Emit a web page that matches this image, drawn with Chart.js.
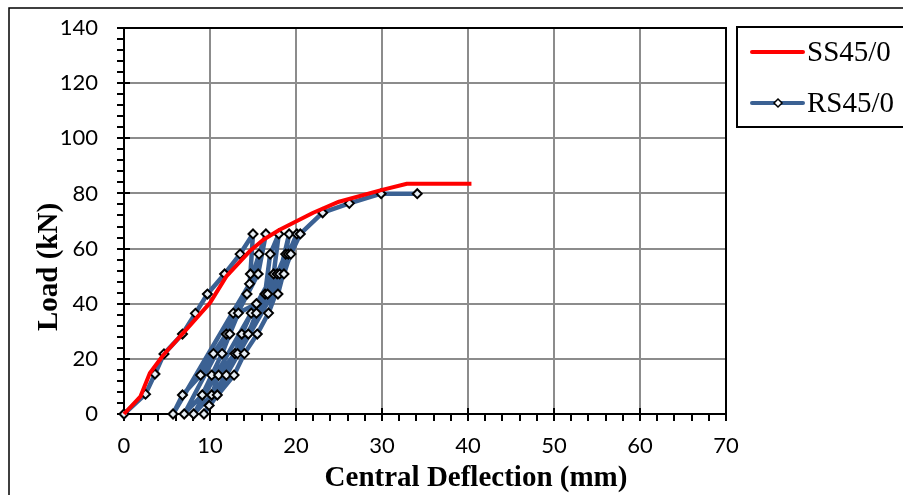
<!DOCTYPE html>
<html>
<head>
<meta charset="utf-8">
<title>Load - central deflection</title>
<script src="https://cdn.jsdelivr.net/npm/chart.js@4.4.1/dist/chart.umd.min.js"></script>
<style>
  html, body { margin: 0; padding: 0; background: #fff; }
</style>
</head>
<body>
<canvas id="loadChart" width="903" height="495"></canvas>
<script>
// SS45/0 : monotonic
const ssDeflection = [0, 1.9, 3.0, 4.6, 6.9, 10.0, 11.9, 14.6, 16.2, 18.1, 22.0, 25.0, 29.8, 32.9, 40.4];
const ssLoad       = [0, 6.3, 14.8, 21.5, 29.4, 40.3, 49.9, 59.0, 63.2, 66.8, 73.0, 77.0, 81.1, 83.5, 83.5];

// RS45/0 : repeated loading (points in test order)
const rsDeflection = [
  0, 2.5, 3.6, 4.65, 6.8, 8.3, 9.7, 11.7, 13.5, 15.0,
  14.7, 14.6, 5.7,
  6.8, 8.9, 10.4, 11.9, 12.7, 14.3, 15.7, 16.5,
  15.6, 7.0,
  9.1, 10.2, 11.4, 12.3, 13.3, 15.4, 16.4, 17.0, 18.0,
  17.4, 8.1,
  10.2, 11.0, 12.9, 13.7, 14.8, 16.7, 17.8, 18.8, 19.2,
  18.1, 9.3,
  10.85, 11.9, 13.2, 14.45, 15.4, 17.9, 19.1, 20.1,
  18.6, 9.9,
  12.8, 14.0, 15.5, 16.8, 19.4, 20.5,
  23.1, 26.2, 29.9, 34.1
];
const rsLoad = [
  0, 7.2, 14.5, 21.8, 29, 36.5, 43.5, 50.8, 58, 65.3,
  50.8, 47.2, 0,
  6.9, 14.1, 21.9, 29, 36.6, 43.5, 58, 65.3,
  50.8, 0,
  6.9, 14.1, 21.9, 29, 36.6, 40, 43.5, 58, 65.3,
  50.8, 0,
  6.9, 14.1, 21.9, 29, 36.6, 43.5, 50.8, 58, 65.3,
  50.8, 0,
  6.9, 14.1, 21.9, 29, 36.6, 43.5, 58, 65.3,
  50.8, 3.1,
  14.1, 21.9, 29, 36.6, 58, 65.3,
  73, 76.4, 79.9, 79.9
];

const seriesNames = ['SS45/0', 'RS45/0'];
const xMax = 70, xStep = 10, xMinor = 2;
const yMax = 140, yStep = 20, yMinor = 4;

const RED = '#ff0000';
const BLUE = '#3b6193';

function pts(xs, ys) {
  return xs.map((x, i) => ({ x: x, y: ys[i] }));
}

// frame, tick marks, titles, legend
const decor = {
  id: 'decor',
  beforeDatasetsDraw(chart) {
    const ctx = chart.ctx;
    const a = chart.chartArea;
    const xs = chart.scales.x, ys = chart.scales.y;
    ctx.save();
    ctx.strokeStyle = '#000';
    ctx.lineWidth = 2;
    ctx.strokeRect(a.left, a.top, a.right - a.left, a.bottom - a.top);
    ctx.beginPath();
    for (let v = 0; v <= xMax; v += xMinor) {
      const px = Math.round(xs.getPixelForValue(v));
      const major = v % xStep === 0;
      ctx.moveTo(px, a.bottom + 7);
      ctx.lineTo(px, major ? a.bottom - 6 : a.bottom);
    }
    for (let v = 0; v <= yMax; v += yMinor) {
      const py = Math.round(ys.getPixelForValue(v));
      const major = v % yStep === 0;
      ctx.moveTo(a.left - 7, py);
      ctx.lineTo(major ? a.left + 6 : a.left, py);
    }
    ctx.stroke();
    ctx.restore();
  },
  afterDraw(chart) {
    const ctx = chart.ctx;
    ctx.save();
    // outer border
    ctx.strokeStyle = '#000';
    ctx.lineWidth = 1.5;
    ctx.strokeRect(9, 8, 1000, 1000);

    // axis titles
    ctx.fillStyle = '#000';
    ctx.font = 'bold 29px "Liberation Serif"';
    ctx.textAlign = 'center';
    ctx.textBaseline = 'middle';
    ctx.fillText('Central Deflection (mm)', 476, 479);
    ctx.save();
    ctx.translate(50, 267);
    ctx.rotate(-Math.PI / 2);
    ctx.fillText('Load (kN)', 0, 0);
    ctx.restore();

    // legend
    ctx.lineWidth = 2;
    ctx.strokeRect(737, 27, 300, 100);
    ctx.lineCap = 'round';
    ctx.lineWidth = 4;
    ctx.strokeStyle = RED;
    ctx.beginPath(); ctx.moveTo(752, 52); ctx.lineTo(803, 52); ctx.stroke();
    ctx.strokeStyle = BLUE;
    ctx.beginPath(); ctx.moveTo(752, 103); ctx.lineTo(803, 103); ctx.stroke();
    ctx.lineWidth = 1.5;
    ctx.strokeStyle = '#000';
    ctx.fillStyle = '#fff';
    ctx.beginPath();
    ctx.moveTo(778, 99); ctx.lineTo(782, 103); ctx.lineTo(778, 107); ctx.lineTo(774, 103); ctx.closePath();
    ctx.fill(); ctx.stroke();
    ctx.fillStyle = '#000';
    ctx.font = '29px "Liberation Serif"';
    ctx.textAlign = 'left';
    ctx.fillText(seriesNames[0], 807, 53);
    ctx.fillText(seriesNames[1], 807, 104);
    ctx.restore();
  }
};

new Chart(document.getElementById('loadChart'), {
  type: 'scatter',
  data: {
    datasets: [{
      label: seriesNames[0],
      data: pts(ssDeflection, ssLoad),
      showLine: true,
      borderColor: RED,
      backgroundColor: RED,
      borderWidth: 4,
      borderJoinStyle: 'round',
      pointRadius: 0,
      tension: 0
    }, {
      label: seriesNames[1],
      data: pts(rsDeflection, rsLoad),
      showLine: true,
      borderColor: BLUE,
      backgroundColor: BLUE,
      borderWidth: 4.5,
      borderJoinStyle: 'round',
      pointStyle: 'rectRot',
      pointRadius: 4.5,
      pointBackgroundColor: '#e6edf5',
      pointBorderColor: '#000',
      pointBorderWidth: 2,
      tension: 0
    }]
  },
  options: {
    responsive: false,
    animation: false,
    clip: false,
    layout: { padding: { left: 0, top: 28, right: 177, bottom: 0 } },
    plugins: {
      legend: { display: false },
      tooltip: { enabled: false }
    },
    scales: {
      x: {
        type: 'linear',
        min: 0, max: xMax,
        afterFit: s => { s.height = 81; s.paddingLeft = 0; s.paddingRight = 0; },
        ticks: {
          stepSize: xStep,
          padding: 19,
          color: '#000',
          font: { family: 'Lato', size: 22 }
        },
        grid: {
          drawTicks: false,
          color: c => (c.tick.value === 0 ? 'rgba(0,0,0,0)' : '#8c8c8c'),
          lineWidth: 2
        },
        border: { display: true, color: '#000', width: 2 }
      },
      y: {
        type: 'linear',
        min: 0, max: yMax,
        afterFit: s => { s.width = 124; s.paddingTop = 0; s.paddingBottom = 0; },
        ticks: {
          stepSize: yStep,
          padding: 26,
          color: '#000',
          font: { family: 'Lato', size: 22 }
        },
        grid: {
          drawTicks: false,
          color: c => (c.tick.value === 0 ? 'rgba(0,0,0,0)' : '#8c8c8c'),
          lineWidth: 2
        },
        border: { display: true, color: '#000', width: 2 }
      }
    }
  },
  plugins: [decor]
});
</script>
</body>
</html>
